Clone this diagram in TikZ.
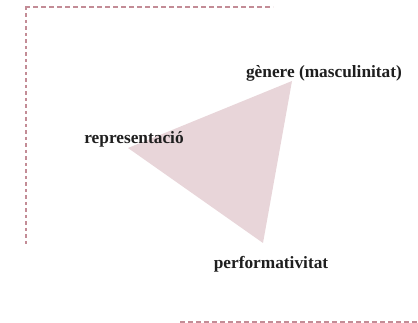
\documentclass[tikz,border=0pt]{standalone}
\usepackage{fontspec}
\setmainfont{Liberation Serif}
\definecolor{dashcol}{RGB}{195,140,150}
\definecolor{trifill}{RGB}{232,213,217}
\begin{document}
\begin{tikzpicture}[x=1pt,y=1pt,
  frame/.style={draw=dashcol,line width=1.2pt},
  lbl/.style={font=\fontsize{17.3pt}{19pt}\selectfont\bfseries,text=black!88,inner sep=0pt,anchor=base}]
\useasboundingbox (0,0) rectangle (418,323);
% frame corners
\coordinate (tl0) at (25,316);
\coordinate (tl1) at (273,316);
\coordinate (lt) at (26,316);
\coordinate (lb) at (26,76);
\coordinate (bl0) at (180,1);
\coordinate (bl1) at (418,1);
\draw[frame,dash pattern=on 5pt off 3pt] (tl0) -- (tl1);
\draw[frame,dash pattern=on 3.5pt off 3pt] (lt) -- (lb);
\draw[frame,dash pattern=on 5pt off 3pt] (bl0) -- (bl1);
% triangle
\coordinate (r) at (128,175);
\coordinate (g) at (292,242);
\coordinate (p) at (263,80);
\fill[trifill] (r) -- (g) -- (p) -- cycle;
% labels
\node[lbl] (gl) at (324,245) {gènere (masculinitat)};
\node[lbl] (rl) at (134,179.5) {representació};
\node[lbl] (pl) at (271,54) {performativitat};
\end{tikzpicture}
\end{document}
